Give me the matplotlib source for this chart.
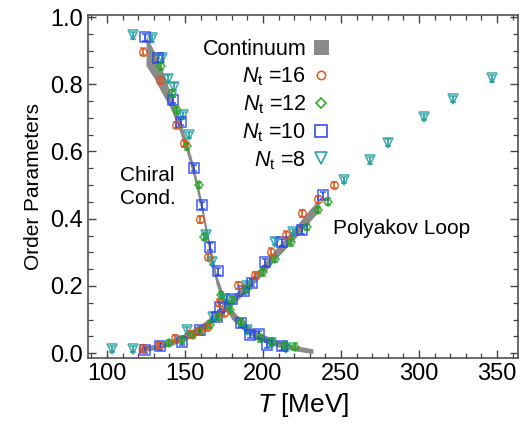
import matplotlib
matplotlib.use("Agg")
import matplotlib.pyplot as plt
import numpy as np
from matplotlib.patches import Patch
from matplotlib.lines import Line2D

plt.rcParams['font.family'] = ['Liberation Sans', 'DejaVu Sans']
plt.rcParams['mathtext.fontset'] = 'custom'
plt.rcParams['mathtext.rm'] = 'Liberation Sans'
plt.rcParams['mathtext.it'] = 'Liberation Sans:italic'

# continuum bands
T_chi_band = [125, 130, 135, 140, 145, 150, 155, 160, 165, 170, 175, 180, 190, 200, 210, 220, 232]
chi_band = [0.90, 0.86, 0.81, 0.76, 0.70, 0.63, 0.55, 0.45, 0.33, 0.22, 0.155, 0.115, 0.07, 0.045, 0.027, 0.015, 0.006]
chi_band_w = [0.045, 0.04, 0.035, 0.025, 0.02, 0.017, 0.017, 0.017, 0.017, 0.016, 0.016, 0.015, 0.013, 0.011, 0.009, 0.008, 0.007]
T_pol_band = [120, 130, 140, 150, 160, 170, 180, 190, 200, 210, 220, 230, 236]
pol_band = [0.01, 0.018, 0.03, 0.048, 0.074, 0.11, 0.155, 0.2, 0.25, 0.305, 0.355, 0.41, 0.44]
pol_band_w = [0.008, 0.008, 0.009, 0.01, 0.011, 0.012, 0.013, 0.014, 0.015, 0.016, 0.017, 0.018, 0.018]

# Nt = 16
T16_chi = [123, 134, 144, 149.5, 159.6, 165, 172]
chi16 = [0.897, 0.812, 0.679, 0.624, 0.398, 0.286, 0.15]
T16_pol = [123, 133.5, 143.6, 153, 158, 164, 175, 184, 195, 205, 215, 225, 235, 245.5]
pol16 = [0.014, 0.024, 0.044, 0.056, 0.066, 0.078, 0.12, 0.202, 0.232, 0.302, 0.353, 0.416, 0.458, 0.50]

# Nt = 12
T12_chi = [134.4, 141.4, 145, 151.5, 159.2, 162.2, 173, 178.8, 186, 198, 205.5, 214, 220.5]
chi12 = [0.853, 0.773, 0.723, 0.615, 0.50, 0.346, 0.173, 0.128, 0.093, 0.044, 0.034, 0.024, 0.019]
T12_pol = [140, 148, 155, 160, 166, 172, 180, 190, 200, 208, 218, 228, 235.5, 241.8]
pol12 = [0.03, 0.04, 0.055, 0.065, 0.085, 0.11, 0.158, 0.19, 0.24, 0.28, 0.33, 0.375, 0.426, 0.451]

# Nt = 10
T10_chi = [124.4, 132.9, 142, 147.2, 155.8, 161, 166, 171, 186, 191.5, 197.6, 202.4, 212]
chi10 = [0.94, 0.877, 0.753, 0.688, 0.551, 0.44, 0.317, 0.243, 0.089, 0.054, 0.056, 0.024, 0.02]
T10_pol = [124.4, 134, 147.9, 159.6, 170.3, 172.4, 180, 188, 193, 201.3, 212, 224.8, 238.7]
pol10 = [0.009, 0.02, 0.034, 0.068, 0.108, 0.138, 0.16, 0.185, 0.21, 0.27, 0.33, 0.366, 0.47]

# Nt = 8
T8_chi = [116.7, 128.6, 135.4, 139.3, 143, 149, 152.8, 163.5, 167.5, 175, 190, 205, 215]
chi8 = [0.946, 0.937, 0.877, 0.817, 0.793, 0.708, 0.649, 0.351, 0.272, 0.16, 0.07, 0.03, 0.015]
T8_pol = [103, 116.7, 151, 168, 178, 190, 207.7, 219, 251.9, 268.6, 280, 303, 322, 347]
pol8 = [0.012, 0.012, 0.068, 0.108, 0.14, 0.2, 0.332, 0.36, 0.515, 0.574, 0.626, 0.703, 0.756, 0.818]

fig = plt.figure(figsize=(5.24, 4.30), dpi=100)
ax = fig.add_axes([0.168, 0.167, 0.8205, 0.798])

band_col = '#8a8a8a'
ax.fill_between(T_chi_band, np.array(chi_band) - np.array(chi_band_w),
                np.array(chi_band) + np.array(chi_band_w), color=band_col, lw=0, zorder=1)
ax.fill_between(T_pol_band, np.array(pol_band) - np.array(pol_band_w),
                np.array(pol_band) + np.array(pol_band_w), color=band_col, lw=0, zorder=1)

sets = [
    (T8_chi, chi8, T8_pol, pol8, '#1a9c9c', 'v', 7),
    (T10_chi, chi10, T10_pol, pol10, '#2040f0', 's', 7.5),
    (T12_chi, chi12, T12_pol, pol12, '#27a61f', 'D', 4.5),
    (T16_chi, chi16, T16_pol, pol16, '#dc551b', 'o', 5.5),
]
for Tc, c, Tp, p, col, m, ms in sets:
    for xs, ys in [(Tc, c), (Tp, p)]:
        ax.errorbar(xs, ys, yerr=0.01, fmt=m, mfc='none', mec=col, ms=ms, mew=1.1,
                    ecolor=col, elinewidth=1.4, capsize=2.2, capthick=1.2, alpha=0.85, zorder=3)

ax.text(108.5, 0.495, 'Chiral\nCond.', fontsize=15, ha='left', va='center', linespacing=1.3)
ax.text(245, 0.372, 'Polyakov Loop', fontsize=15, ha='left', va='center')

handles = [
    Patch(facecolor=band_col, edgecolor='none'),
    Line2D([], [], ls='none', marker='o', mfc='none', mec='#dc551b', ms=6, mew=1.1),
    Line2D([], [], ls='none', marker='D', mfc='none', mec='#27a61f', ms=5.5, mew=1.1),
    Line2D([], [], ls='none', marker='s', mfc='none', mec='#2040f0', ms=9, mew=1.1),
    Line2D([], [], ls='none', marker='v', mfc='none', mec='#1a9c9c', ms=9, mew=1.1),
]
labels = ['Continuum', r'$N_{\mathrm{t}}$ =16', r'$N_{\mathrm{t}}$ =12',
          r'$N_{\mathrm{t}}$ =10', r'$N_{\mathrm{t}}$ =8']
ax.legend(handles, labels, loc='upper right', bbox_to_anchor=(0.595, 0.975), frameon=False,
          markerfirst=False, fontsize=15.5, handlelength=0.7, handletextpad=0.35,
          labelspacing=0.25, borderpad=0.2)

ax.set_xlim(87.8, 363.5)
ax.set_ylim(-0.015, 1.006)
ax.set_xticks([100, 150, 200, 250, 300, 350])
ax.set_xticks(np.arange(90, 361, 10), minor=True)
ax.set_yticks([0.0, 0.2, 0.4, 0.6, 0.8, 1.0])
ax.set_yticks(np.arange(0, 1.01, 0.05), minor=True)
ax.tick_params(which='both', direction='in', top=True, right=True, color='#444444', labelsize=17)
ax.tick_params(which='major', length=6, width=1)
ax.tick_params(which='minor', length=3.5, width=0.9)
for s in ax.spines.values():
    s.set_color('#444444')
    s.set_linewidth(1.1)

ax.set_xlabel(r'$T$ [MeV]', fontsize=19, labelpad=4)
ax.set_ylabel('Order Parameters', fontsize=15, labelpad=5)

fig.savefig('out.png', dpi=100)
